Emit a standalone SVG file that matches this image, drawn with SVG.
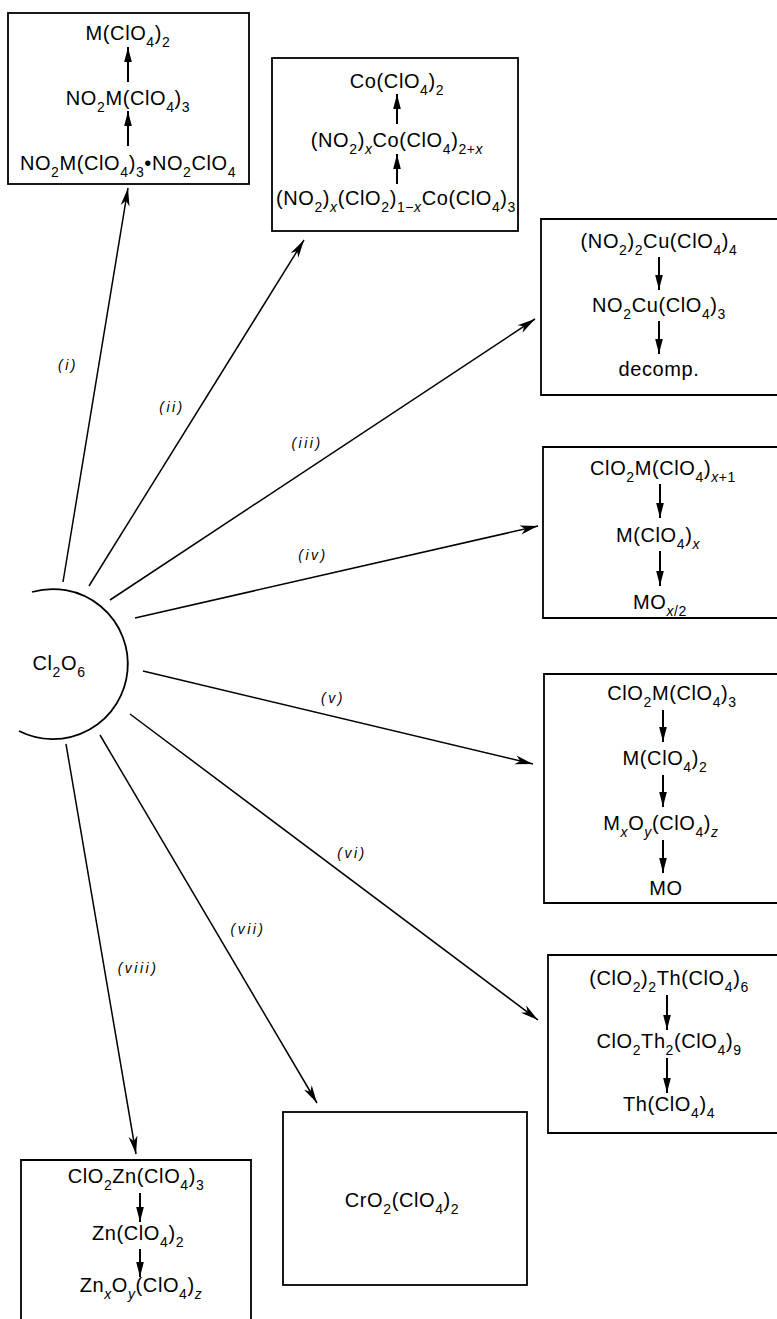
<svg xmlns="http://www.w3.org/2000/svg" width="777" height="1319" viewBox="0 0 777 1319">
<defs>
<marker id="ah" markerUnits="userSpaceOnUse" markerWidth="24" markerHeight="12" viewBox="-20 -6 22 12" refX="0" refY="0" orient="auto">
<path d="M0,0 L-18,-4.5 L-13,0 L-18,4.5 Z" fill="#000"/>
</marker>
<marker id="sh" markerUnits="userSpaceOnUse" markerWidth="20" markerHeight="10" viewBox="-16 -5 18 10" refX="0" refY="0" orient="auto">
<path d="M0,0 L-15,-3.8 L-15,3.8 Z" fill="#000"/>
</marker>
<style>
.box{fill:none;stroke:#000;stroke-width:1.8}
.con{fill:none;stroke:#000;stroke-width:1.5;marker-end:url(#ah)}
.in{fill:none;stroke:#000;stroke-width:2;marker-end:url(#sh)}
.t{font-family:"Liberation Sans",Arial,sans-serif;font-size:20px;letter-spacing:0.6px;text-anchor:middle;fill:#000}
.s{font-size:14px}
.i{font-style:italic}
.lb{font-family:"Liberation Sans",Arial,sans-serif;font-size:14px;font-style:italic;letter-spacing:2.5px;text-anchor:middle;fill:#000}
</style>
</defs>

<g id="connectors">
<line class="con" x1="63" y1="582" x2="128" y2="188"/>
<line class="con" x1="89" y1="586" x2="304" y2="240"/>
<line class="con" x1="110" y1="600" x2="535" y2="319"/>
<line class="con" x1="135" y1="618" x2="538" y2="526"/>
<line class="con" x1="143" y1="671" x2="533" y2="764"/>
<line class="con" x1="130" y1="714" x2="538" y2="1020"/>
<line class="con" x1="100" y1="735" x2="317" y2="1103"/>
<line class="con" x1="66" y1="744" x2="136" y2="1154"/>
<text class="lb" x="68" y="370">(i)</text>
<text class="lb" x="172" y="412">(ii)</text>
<text class="lb" x="307" y="448">(iii)</text>
<text class="lb" x="313" y="560">(iv)</text>
<text class="lb" x="333" y="703">(v)</text>
<text class="lb" x="352" y="858">(vi)</text>
<text class="lb" x="248" y="934">(vii)</text>
<text class="lb" x="138" y="973">(viii)</text>
</g>

<g id="cl2o6">
<path d="M32,592 A75,75 0 1 1 19,731" fill="none" stroke="#000" stroke-width="1.8"/>
<text class="t" x="59" y="670">Cl<tspan class="s" dy="7">2</tspan><tspan dy="-7">O</tspan><tspan class="s" dy="7">6</tspan></text>
</g>

<g id="box-i">
<rect class="box" x="8" y="13" width="241" height="171"/>
<text class="t" x="128" y="40">M(ClO<tspan class="s" dy="7">4</tspan><tspan dy="-7">)</tspan><tspan class="s" dy="7">2</tspan></text>
<line class="in" x1="128" y1="82" x2="128" y2="47"/>
<text class="t" x="128" y="105">NO<tspan class="s" dy="7">2</tspan><tspan dy="-7">M(ClO</tspan><tspan class="s" dy="7">4</tspan><tspan dy="-7">)</tspan><tspan class="s" dy="7">3</tspan></text>
<line class="in" x1="128" y1="146" x2="128" y2="111"/>
<text class="t" x="128" y="170">NO<tspan class="s" dy="7">2</tspan><tspan dy="-7">M(ClO</tspan><tspan class="s" dy="7">4</tspan><tspan dy="-7">)</tspan><tspan class="s" dy="7">3</tspan><tspan dy="-7">•NO</tspan><tspan class="s" dy="7">2</tspan><tspan dy="-7">ClO</tspan><tspan class="s" dy="7">4</tspan></text>
</g>

<g id="box-ii">
<rect class="box" x="272" y="58" width="246" height="173"/>
<text class="t" x="397" y="88">Co(ClO<tspan class="s" dy="7">4</tspan><tspan dy="-7">)</tspan><tspan class="s" dy="7">2</tspan></text>
<line class="in" x1="397" y1="124" x2="397" y2="94"/>
<text class="t" x="397" y="147">(NO<tspan class="s" dy="7">2</tspan><tspan dy="-7">)</tspan><tspan class="s i" dy="7">x</tspan><tspan dy="-7">Co(ClO</tspan><tspan class="s" dy="7">4</tspan><tspan dy="-7">)</tspan><tspan class="s" dy="7">2+<tspan class="i">x</tspan></tspan></text>
<line class="in" x1="397" y1="184" x2="397" y2="154"/>
<text class="t" x="396" y="205">(NO<tspan class="s" dy="7">2</tspan><tspan dy="-7">)</tspan><tspan class="s i" dy="7">x</tspan><tspan dy="-7">(ClO</tspan><tspan class="s" dy="7">2</tspan><tspan dy="-7">)</tspan><tspan class="s" dy="7">1−<tspan class="i">x</tspan></tspan><tspan dy="-7">Co(ClO</tspan><tspan class="s" dy="7">4</tspan><tspan dy="-7">)</tspan><tspan class="s" dy="7">3</tspan></text>
</g>

<g id="box-iii">
<path class="box" d="M780,219 H541 V395 H780"/>
<text class="t" x="659" y="248">(NO<tspan class="s" dy="7">2</tspan><tspan dy="-7">)</tspan><tspan class="s" dy="7">2</tspan><tspan dy="-7">Cu(ClO</tspan><tspan class="s" dy="7">4</tspan><tspan dy="-7">)</tspan><tspan class="s" dy="7">4</tspan></text>
<line class="in" x1="659" y1="257" x2="659" y2="290"/>
<text class="t" x="659" y="312">NO<tspan class="s" dy="7">2</tspan><tspan dy="-7">Cu(ClO</tspan><tspan class="s" dy="7">4</tspan><tspan dy="-7">)</tspan><tspan class="s" dy="7">3</tspan></text>
<line class="in" x1="659" y1="321" x2="659" y2="354"/>
<text class="t" x="659" y="376">decomp.</text>
</g>

<g id="box-iv">
<path class="box" d="M780,447 H543 V618 H780"/>
<text class="t" x="663" y="475">ClO<tspan class="s" dy="7">2</tspan><tspan dy="-7">M(ClO</tspan><tspan class="s" dy="7">4</tspan><tspan dy="-7">)</tspan><tspan class="s" dy="7"><tspan class="i">x</tspan>+1</tspan></text>
<line class="in" x1="660" y1="484" x2="660" y2="518"/>
<text class="t" x="658" y="542">M(ClO<tspan class="s" dy="7">4</tspan><tspan dy="-7">)</tspan><tspan class="s i" dy="7">x</tspan></text>
<line class="in" x1="660" y1="551" x2="660" y2="586"/>
<text class="t" x="660" y="609">MO<tspan class="s" dy="7"><tspan class="i">x</tspan>/2</tspan></text>
</g>

<g id="box-v">
<path class="box" d="M780,674 H544 V903 H780"/>
<text class="t" x="672" y="700">ClO<tspan class="s" dy="7">2</tspan><tspan dy="-7">M(ClO</tspan><tspan class="s" dy="7">4</tspan><tspan dy="-7">)</tspan><tspan class="s" dy="7">3</tspan></text>
<line class="in" x1="663" y1="710" x2="663" y2="742"/>
<text class="t" x="665" y="765">M(ClO<tspan class="s" dy="7">4</tspan><tspan dy="-7">)</tspan><tspan class="s" dy="7">2</tspan></text>
<line class="in" x1="663" y1="775" x2="663" y2="807"/>
<text class="t" x="661" y="830">M<tspan class="s i" dy="7">x</tspan><tspan dy="-7">O</tspan><tspan class="s i" dy="7">y</tspan><tspan dy="-7">(ClO</tspan><tspan class="s" dy="7">4</tspan><tspan dy="-7">)</tspan><tspan class="s i" dy="7">z</tspan></text>
<line class="in" x1="663" y1="840" x2="663" y2="873"/>
<text class="t" x="666" y="895">MO</text>
</g>

<g id="box-vi">
<path class="box" d="M780,955 H548 V1133 H780"/>
<text class="t" x="669" y="985">(ClO<tspan class="s" dy="7">2</tspan><tspan dy="-7">)</tspan><tspan class="s" dy="7">2</tspan><tspan dy="-7">Th(ClO</tspan><tspan class="s" dy="7">4</tspan><tspan dy="-7">)</tspan><tspan class="s" dy="7">6</tspan></text>
<line class="in" x1="667" y1="995" x2="667" y2="1030"/>
<text class="t" x="669" y="1048">ClO<tspan class="s" dy="7">2</tspan><tspan dy="-7">Th</tspan><tspan class="s" dy="7">2</tspan><tspan dy="-7">(ClO</tspan><tspan class="s" dy="7">4</tspan><tspan dy="-7">)</tspan><tspan class="s" dy="7">9</tspan></text>
<line class="in" x1="667" y1="1058" x2="667" y2="1093"/>
<text class="t" x="669" y="1111">Th(ClO<tspan class="s" dy="7">4</tspan><tspan dy="-7">)</tspan><tspan class="s" dy="7">4</tspan></text>
</g>

<g id="box-vii">
<rect class="box" x="283" y="1112" width="244" height="173"/>
<text class="t" x="402" y="1207">CrO<tspan class="s" dy="7">2</tspan><tspan dy="-7">(ClO</tspan><tspan class="s" dy="7">4</tspan><tspan dy="-7">)</tspan><tspan class="s" dy="7">2</tspan></text>
</g>

<g id="box-viii">
<path class="box" d="M21,1325 V1160 H251 V1325"/>
<text class="t" x="136" y="1183">ClO<tspan class="s" dy="7">2</tspan><tspan dy="-7">Zn(ClO</tspan><tspan class="s" dy="7">4</tspan><tspan dy="-7">)</tspan><tspan class="s" dy="7">3</tspan></text>
<line class="in" x1="140" y1="1193" x2="140" y2="1222"/>
<text class="t" x="138" y="1240">Zn(ClO<tspan class="s" dy="7">4</tspan><tspan dy="-7">)</tspan><tspan class="s" dy="7">2</tspan></text>
<line class="in" x1="140" y1="1249" x2="140" y2="1277"/>
<text class="t" x="141" y="1292">Zn<tspan class="s i" dy="7">x</tspan><tspan dy="-7">O</tspan><tspan class="s i" dy="7">y</tspan><tspan dy="-7">(ClO</tspan><tspan class="s" dy="7">4</tspan><tspan dy="-7">)</tspan><tspan class="s i" dy="7">z</tspan></text>
</g>
</svg>
